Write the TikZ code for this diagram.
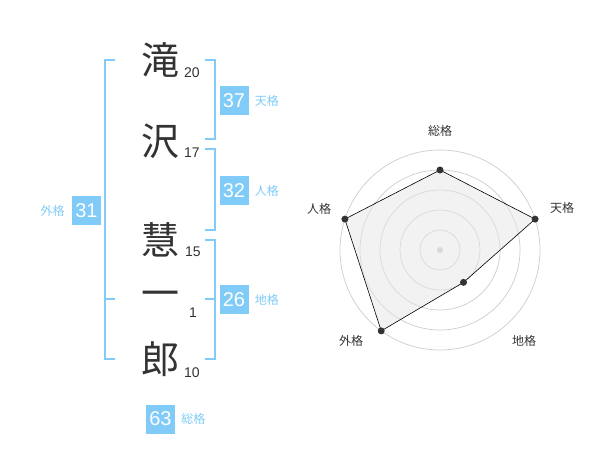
\documentclass[tikz,border=0pt]{standalone}
\usepackage{fontspec}
\setmainfont{Liberation Sans}
\newfontfamily\jp{Noto Sans CJK JP}
\usetikzlibrary{positioning,calc}
\definecolor{kakublue}{RGB}{128,203,248}
\definecolor{ink}{RGB}{51,51,51}

\tikzset{
  kanji/.style={text=ink, inner sep=0pt, font=\jp\fontsize{38}{38}\selectfont},
  strokes/.style={text=ink, inner sep=0pt, font=\fontsize{14}{14}\selectfont},
  kakubox/.style={fill=kakublue, text=white, minimum size=29pt, inner sep=0pt, font=\fontsize{20}{20}\selectfont},
  kakuname/.style={text=kakublue, inner sep=0pt, font=\jp\fontsize{12}{12}\selectfont},
  bracket/.style={draw=kakublue, line width=2pt},
  ring/.style={draw=black!20, line width=0.7pt},
  dot/.style={circle, fill=ink, inner sep=0pt, minimum size=7pt},
  axisname/.style={text=ink, inner sep=0pt, font=\jp\fontsize{12}{12}\selectfont}
}

\begin{document}
\begin{tikzpicture}[x=1pt, y=-1pt]
       \useasboundingbox (0,0) rectangle (600,470);

       % name, one character per line
       \node[kanji] (K1) at (160,60) {滝};
       \node[kanji] (K2) at (160,141) {沢};
       \node[kanji] (K3) at (160,240) {慧};
       \node[kanji] (K4) at (160,299) {一};
       \node[kanji] (K5) at (160,359) {郎};

       \node[strokes] (S1) at (192,73) {20};
       \node[strokes] (S2) at (192,153) {17};
       \node[strokes] (S3) at (193,252) {15};
       \node[strokes] (S4) at (193,313) {1};
       \node[strokes] (S5) at (192,373) {10};

       % brackets
       \draw[bracket] (115,60) -- (105,60) -- (105,359) -- (115,359);
       \draw[bracket] (105,299) -- (115,299);
       \draw[bracket] (205,60) -- (215,60) -- (215,139) -- (205,139);
       \draw[bracket] (205,149) -- (215,149) -- (215,230) -- (205,230);
       \draw[bracket] (205,240) -- (215,240) -- (215,359) -- (205,359);
       \draw[bracket] (205,299) -- (215,299);

       \node[kakubox] (T) at (234,101) {37};
       \node[kakubox] (J) at (234,191) {32};
       \node[kakubox] (C) at (234,300) {26};
       \node[kakubox] (G) at (86.5,210.5) {31};
       \node[kakubox] (A) at (160.5,419) {63};

       \node[kakuname, right=6pt of T] {天格};
       \node[kakuname, right=6pt of J] {人格};
       \node[kakuname, right=6pt of C] {地格};
       \node[kakuname, left=7pt of G] {外格};
       \node[kakuname, right=6pt of A] {総格};

       % radar
       \coordinate (O) at (440,250);
       \foreach \r in {20,40,...,100}
          \draw[ring] (O) circle (\r pt);
       \fill[black!20] (O) circle (3pt);

       \foreach \a/\r/\n in {-90/80/1, -18/100/2, 54/40/3, 126/100/4, 198/100/5}
          \coordinate (V\n) at ($(O)+(\a:\r)$);
       \draw[fill=black!10, fill opacity=0.5, line width=0.6pt] (V1) -- (V2) -- (V3) -- (V4) -- (V5) -- cycle;
       \foreach \n in {1,...,5}
          \node[dot] (P\n) at (V\n) {};

       \node[axisname] (L1) at (440,131) {総格};
       \node[axisname] (L2) at (562,208) {天格};
       \node[axisname] (L3) at (524,341) {地格};
       \node[axisname] (L4) at (351,341) {外格};
       \node[axisname] (L5) at (319,209) {人格};
    \end{tikzpicture}
\end{document}
